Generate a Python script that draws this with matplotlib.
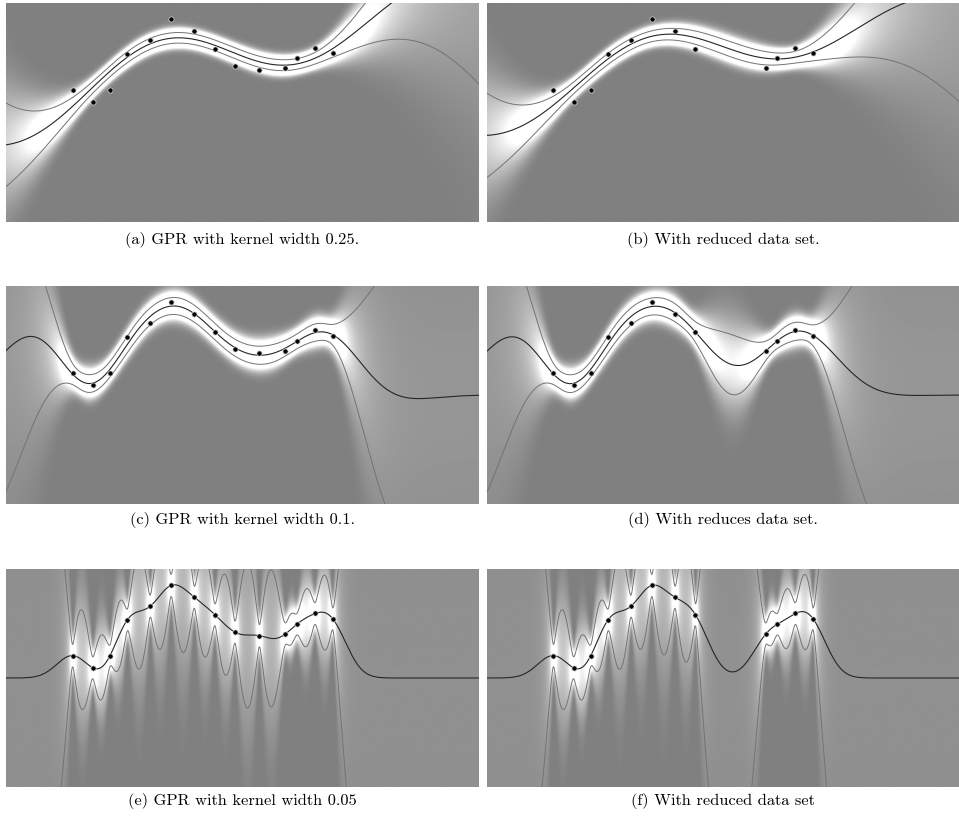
import numpy as np
import matplotlib
matplotlib.use("Agg")
import matplotlib.pyplot as plt

# observations
x_obs = np.array([0.169, 0.220, 0.264, 0.308, 0.366, 0.419, 0.478,
                  0.530, 0.581, 0.643, 0.709, 0.738, 0.784, 0.829])
y_obs = np.array([0.206, 0.094, 0.206, 0.535, 0.660, 0.851, 0.742,
                  0.581, 0.421, 0.389, 0.405, 0.494, 0.592, 0.544])
dropped = [8, 9]   # points left out in the reduced set

# one row per kernel setting
length = [0.34, 0.11, 0.04]
sig_f = [1.5, 1.5, 2.0]
captions = [["(a) GPR with kernel width 0.25.", "(b) With reduced data set."],
            ["(c) GPR with kernel width 0.1.", "(d) With reduces data set."],
            ["(e) GPR with kernel width 0.05", "(f) With reduced data set"]]

sig_n = 0.1
xlim = (0.0, 1.2)
ylim = (-1.0, 1.0)
cmax = 1.5


def gpr(xt, yt, xs, ell, sf):
    def k(a, b):
        return sf**2 * np.exp(-(a[:, None] - b[None, :])**2 / (2 * ell**2))
    K = k(xt, xt) + sig_n**2 * np.eye(len(xt))
    Ks = k(xs, xt)
    alpha = np.linalg.solve(K, yt)
    mu = Ks @ alpha
    v = np.linalg.solve(K, Ks.T)
    var = sf**2 - np.sum(Ks * v.T, axis=1)
    return mu, np.sqrt(np.maximum(var, 1e-10))


fig = plt.figure(figsize=(9.59, 8.22), dpi=100)
W, H = 959.0, 822.0
cols = [(6, 473), (487, 472)]
rows = [(3, 219), (286, 218), (569, 218)]
cap_y = [240, 520, 801]

xs = np.linspace(*xlim, 700)
ys = np.linspace(*ylim, 350)
keep = np.array([i not in dropped for i in range(len(x_obs))])

for r in range(3):
    for c in range(2):
        xt = x_obs if c == 0 else x_obs[keep]
        yt = y_obs if c == 0 else y_obs[keep]
        x0, w = cols[c]
        y0, h = rows[r]
        ax = fig.add_axes([x0 / W, 1 - (y0 + h) / H, w / W, h / H])
        mu, sd = gpr(xt, yt, xs, length[r], sig_f[r])
        dens = np.exp(-0.5 * ((ys[:, None] - mu[None, :]) / sd[None, :])**2) \
            / (np.sqrt(2 * np.pi) * sd[None, :])
        ax.imshow(dens, origin="lower", extent=(*xlim, *ylim), aspect="auto",
                  cmap="gray", vmin=-cmax, vmax=cmax, interpolation="bilinear")
        ax.plot(xs, mu + sd, color="0.45", lw=0.7)
        ax.plot(xs, mu - sd, color="0.45", lw=0.7)
        ax.plot(xs, mu, color="0.15", lw=0.8)
        ax.scatter(xt, yt, s=14, color="black", edgecolors="0.85",
                   linewidths=0.5, zorder=5)
        ax.set_xlim(*xlim)
        ax.set_ylim(*ylim)
        ax.axis("off")
        fig.text((x0 + w / 2) / W, 1 - cap_y[r] / H, captions[r][c],
                 ha="center", va="center", family="cmr10", fontsize=11.8)

fig.savefig("out.png", dpi=100)
